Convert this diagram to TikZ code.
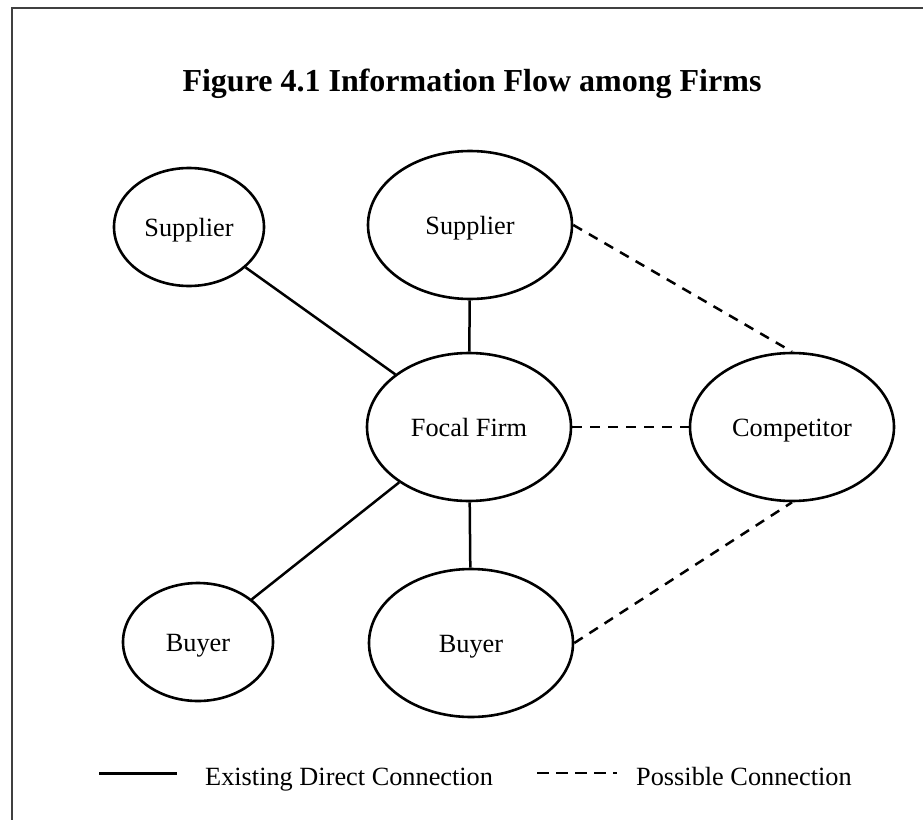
\documentclass[tikz,border=0pt]{standalone}
\usepackage{fontspec}
\setmainfont{Liberation Serif}
\usetikzlibrary{shapes.geometric}

\tikzset{
  firm/.style={ellipse, draw, line width=2.6pt, inner sep=0pt,
    text height=18pt, text depth=0pt,
    font=\fontsize{26.3}{30}\selectfont},
  bigfirm/.style={firm, minimum width=204pt, minimum height=148pt},
  smallfirm/.style={firm, minimum width=150pt, minimum height=118pt},
  direct/.style={line width=2.5pt},
  possible/.style={line width=2.5pt, dash pattern=on 10pt off 8pt},
  legendtext/.style={inner sep=0pt, anchor=base west,
    font=\fontsize{26.3}{30}\selectfont},
}

\begin{document}
\begin{tikzpicture}[x=1pt, y=-1pt]
  \useasboundingbox (0,0) rectangle (923,819);

  % open frame: top and left edges only
  \draw[line width=2pt, black!75] (925,8) -- (12,8) -- (12,821);

  % title
  \node[inner sep=0pt, anchor=base, font=\bfseries\fontsize{32}{38}\selectfont]
    (title) at (472,91) {Figure 4.1 Information Flow among Firms};

  % firms
  \node[smallfirm] (supL)  at (189,227) {Supplier};
  \node[bigfirm]   (supT)  at (470,225) {Supplier};
  \node[bigfirm]   (focal) at (469,427) {Focal Firm};
  \node[bigfirm]   (comp)  at (792,427) {Competitor};
  \node[smallfirm] (buyL)  at (198,642) {Buyer};
  \node[bigfirm]   (buyB)  at (471,643) {Buyer};

  % existing direct connections
  \draw[direct] (supL) -- (focal);
  \draw[direct] (supT) -- (focal);
  \draw[direct] (focal) -- (buyL);
  \draw[direct] (focal) -- (buyB);

  % possible connections
  \draw[possible] (supT.east) -- (comp.north);
  \draw[possible] (focal) -- (comp);
  \draw[possible] (buyB.east) -- (comp.south);

  % legend
  \coordinate (ls1) at (99,773);
  \coordinate (ls2) at (177,773);
  \draw[line width=3pt] (ls1) -- (ls2);
  \node[legendtext] (lt1) at (205,785) {Existing Direct Connection};
  \coordinate (ld1) at (537,773);
  \coordinate (ld2) at (617,773);
  \draw[line width=2.6pt, dash pattern=on 12pt off 7pt] (ld1) -- (ld2);
  \node[legendtext] (lt2) at (636,785) {Possible Connection};
\end{tikzpicture}
\end{document}
